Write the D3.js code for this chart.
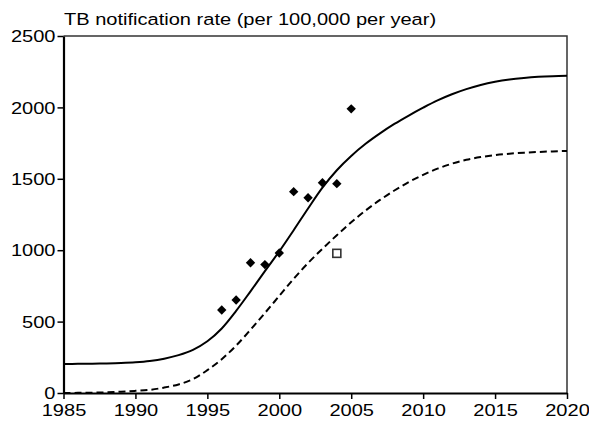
<!DOCTYPE html>
<html>
<head>
<meta charset="utf-8">
<script src="https://cdn.jsdelivr.net/npm/d3@7"></script>
<style>
  html, body { margin: 0; padding: 0; background: #fff; }
  svg { display: block; }
  text { font-family: "Liberation Sans", Arial, Helvetica, sans-serif; fill: #000; }
</style>
</head>
<body>
<svg id="chart" width="589" height="421"></svg>
<script>
// ---- data ----
const title = "TB notification rate (per 100,000 per year)";
const xTicks = [1985, 1990, 1995, 2000, 2005, 2010, 2015, 2020];
const yTicks = [0, 500, 1000, 1500, 2000, 2500];

// observed notification rates (filled diamonds)
const obsYears = [1996, 1997, 1998, 1999, 2000, 2001, 2002, 2003, 2004, 2005];
const obsRates = [581, 651, 912, 899, 980, 1410, 1367, 1472, 1466, 1990];

// single open-square observation
const altYears = [2004];
const altRates = [978];

// fitted curves
const curveYears = [1985,1986,1987,1988,1989,1990,1991,1992,1993,1994,1995,1996,1997,1998,1999,2000,2001,2002,2003,2004,2005,2006,2007,2008,2009,2010,2011,2012,2013,2014,2015,2016,2017,2018,2019,2020];
const solidCurve = [203,204,205,207,210,215,224,240,265,302,362,452,575,712,853,992,1140,1292,1438,1560,1660,1745,1818,1884,1943,1998,2049,2092,2128,2157,2179,2195,2206,2214,2219,2222];
const dashedCurve = [0,1,2,5,9,15,22,38,60,97,160,237,332,443,560,680,800,910,1010,1105,1195,1278,1352,1418,1477,1528,1571,1606,1633,1652,1666,1676,1683,1688,1692,1695];

// ---- drawing ----
const svg = d3.select("#chart");
const mLeft = 63.5, mRight = 567, mTop = 36, mBottom = 393;
const fontSize = 17, sx = 1.18; // reference text is horizontally widened

const x = d3.scaleLinear().domain([1985, 2020]).range([mLeft, mRight]);
const y = d3.scaleLinear().domain([0, 2500]).range([mBottom, mTop]);

// frame (top and right)
svg.append("path")
  .attr("d", `M${mLeft},${mTop}H${mRight}V${mBottom}`)
  .attr("fill", "none").attr("stroke", "#333").attr("stroke-width", 1.5);

// curves
const line = (vals) => d3.line()
  .x((d, i) => x(curveYears[i]))
  .y(d => y(d))
  .curve(d3.curveCatmullRom)(vals);

svg.append("path").attr("d", line(solidCurve))
  .attr("fill", "none").attr("stroke", "#000").attr("stroke-width", 2);
svg.append("path").attr("d", line(dashedCurve))
  .attr("fill", "none").attr("stroke", "#000").attr("stroke-width", 2)
  .attr("stroke-dasharray", "7,4");

// axes
const xAxis = svg.append("g").attr("transform", `translate(0,${mBottom})`)
  .call(d3.axisBottom(x).tickValues(xTicks).tickFormat(d3.format("d")).tickSize(6).tickSizeOuter(0));
const yAxis = svg.append("g").attr("transform", `translate(${mLeft},0)`)
  .call(d3.axisLeft(y).tickValues(yTicks).tickFormat(d3.format("d")).tickSize(6).tickSizeOuter(0));

[xAxis, yAxis].forEach(g => {
  g.select(".domain").attr("stroke", "#000").attr("stroke-width", 2.2);
  g.selectAll(".tick line").attr("stroke", "#000").attr("stroke-width", 1.5);
  g.selectAll(".tick text").attr("font-size", fontSize)
    .attr("font-family", "Liberation Sans, Arial, sans-serif").attr("fill", "#000")
    .attr("transform", `scale(${sx},1)`);
});
xAxis.selectAll(".tick text").attr("dy", "0.71em").attr("y", 11);
yAxis.selectAll(".tick text").attr("x", -8 / sx).attr("dy", "0.33em");

// observations: diamonds
const diamond = d3.symbol().type(d3.symbolDiamond2).size(56);
svg.append("g").selectAll("path").data(obsYears).join("path")
  .attr("d", diamond)
  .attr("transform", (d, i) => `translate(${x(d)},${y(obsRates[i])})`)
  .attr("fill", "#000");

// open square
svg.append("g").selectAll("rect").data(altYears).join("rect")
  .attr("x", d => x(d) - 4).attr("y", (d, i) => y(altRates[i]) - 4)
  .attr("width", 8).attr("height", 8)
  .attr("fill", "#fff").attr("stroke", "#333").attr("stroke-width", 1.6);

// title
svg.append("text").attr("x", 64 / sx).attr("y", 25)
  .attr("transform", `scale(${sx},1)`)
  .attr("font-size", fontSize).text(title);
</script>
</body>
</html>
